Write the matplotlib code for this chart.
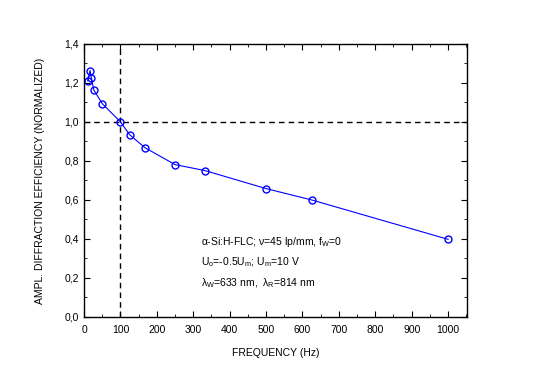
import matplotlib
matplotlib.use('Agg')
import matplotlib.pyplot as plt
from matplotlib.ticker import MultipleLocator, FuncFormatter

plt.rcParams['font.family'] = ['Liberation Sans', 'DejaVu Sans']
plt.rcParams['mathtext.fontset'] = 'custom'
plt.rcParams['mathtext.rm'] = 'Liberation Sans'
plt.rcParams['mathtext.it'] = 'Liberation Sans'

freq = [10, 16.7, 20, 27, 50, 100, 125, 167, 250, 333, 500, 625, 1000]
eff = [1.21, 1.263, 1.227, 1.163, 1.094, 1.0, 0.935, 0.868, 0.781, 0.750, 0.658, 0.600, 0.398]

fig = plt.figure(figsize=(5.6, 3.81), dpi=100)
ax = fig.add_axes([0.15, 0.168, 0.684, 0.717])

ax.axvline(100, color='black', ls=(0, (4, 3)), lw=1)
ax.axhline(1.0, color='black', ls=(0, (4, 3)), lw=1)
ax.plot(freq, eff, '-', color='blue', lw=0.8)
ax.plot(freq, eff, 'o', mfc='none', mec='blue', ms=5, mew=1)

ax.set_xlim(0, 1052)
ax.set_ylim(0, 1.4)
ax.xaxis.set_major_locator(MultipleLocator(100))
ax.xaxis.set_minor_locator(MultipleLocator(50))
ax.yaxis.set_major_locator(MultipleLocator(0.2))
ax.yaxis.set_minor_locator(MultipleLocator(0.1))
ax.yaxis.set_major_formatter(FuncFormatter(lambda v, p: ('%.1f' % v).replace('.', ',')))
ax.tick_params(which='both', direction='in', top=True, right=True, labelsize=7.5)
ax.tick_params(which='major', length=4)
ax.tick_params(which='minor', length=2)
ax.tick_params(axis='x', pad=6)
for s in ax.spines.values():
    s.set_linewidth(1)

ax.set_xlabel('FREQUENCY (Hz)', fontsize=7.5, labelpad=9)
ax.set_ylabel('AMPL. DIFFRACTION EFFICIENCY (NORMALIZED)', fontsize=7.5, labelpad=14)

ax.text(320, 0.37, r'$\alpha$-Si:H-FLC; $\nu$=45 lp/mm, f$_\mathrm{W}$=0', fontsize=7.5)
ax.text(320, 0.265, r'U$_\mathrm{o}$=-0.5U$_\mathrm{m}$; U$_\mathrm{m}$=10 V', fontsize=7.5)
ax.text(320, 0.16, r'$\lambda_\mathrm{W}$=633 nm,  $\lambda_\mathrm{R}$=814 nm', fontsize=7.5)

plt.savefig('out.png', dpi=100)
